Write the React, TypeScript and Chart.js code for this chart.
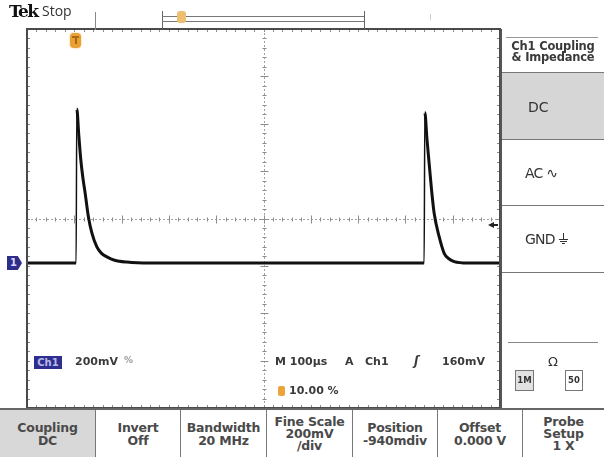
import React, { useEffect, useRef } from "react";
import { Chart, registerables } from "chart.js";

Chart.register(...registerables);

// ---- data (time in µs relative to trigger, voltage in mV relative to ground) ----
const TIME_US = [
  -100, 1.7, 3.8, 5.3, 9.5, 13.8, 18.5, 22.9, 29.9, 37.1, 47.7, 57, 68.9, 85, 111, 160,
  736, 739.6, 741.1, 745.5, 750.2, 755.5, 760.8, 771.4, 782, 792, 803.2, 831.5, 900,
];
const VOLT_MV = [
  0, 0, 0, 650, 540, 435, 355, 296, 194, 127, 68, 42, 26, 12, 4, 0,
  0, 0, 636, 525, 421, 305, 210, 111, 41, 18, 6, 0, 0,
];

const X_MIN = -100;
const X_MAX = 900;
const X_DIV = 100;
const Y_MIN = -612;
const Y_MAX = 988;
const Y_DIV = 200;

const BOTTOM_MENU: string[][] = [
  ["Coupling", "DC"],
  ["Invert", "Off"],
  ["Bandwidth", "20 MHz"],
  ["Fine Scale", "200mV", "/div"],
  ["Position", "-940mdiv"],
  ["Offset", "0.000 V"],
  ["Probe", "Setup", "1 X"],
];
const BOTTOM_EDGES = [0, 95, 180, 266, 352, 437, 522, 604];

const FONT = "'DejaVu Sans', 'Open Sans', sans-serif";

const graticule = {
  id: "graticule",
  beforeDatasetsDraw(chart: any) {
    const { ctx, chartArea: a, scales } = chart;
    const x = scales.x;
    const y = scales.y;
    const xc = Math.round(x.getPixelForValue((X_MIN + X_MAX) / 2)) + 0.5;
    const yc = Math.round(y.getPixelForValue((Y_MIN + Y_MAX) / 2)) + 0.5;
    ctx.save();
    ctx.lineWidth = 1;
    ctx.strokeStyle = "#a0a0a0";
    ctx.setLineDash([2, 2]);
    ctx.beginPath();
    ctx.moveTo(a.left, yc);
    ctx.lineTo(a.right, yc);
    ctx.moveTo(xc, a.top);
    ctx.lineTo(xc, a.bottom);
    ctx.stroke();
    ctx.setLineDash([]);
    ctx.strokeStyle = "#8c8c8c";
    ctx.beginPath();
    for (let i = 0; i <= 50; i++) {
      const v = X_MIN + (i * X_DIV) / 5;
      const px = Math.round(x.getPixelForValue(v)) + 0.5;
      const h = i % 5 === 0 ? 4 : 2;
      ctx.moveTo(px, yc - h);
      ctx.lineTo(px, yc + h);
      ctx.moveTo(px, a.top);
      ctx.lineTo(px, a.top + 3);
      ctx.moveTo(px, a.bottom);
      ctx.lineTo(px, a.bottom - 3);
    }
    for (let i = 0; i <= 40; i++) {
      const v = Y_MIN + (i * Y_DIV) / 5;
      const py = Math.round(y.getPixelForValue(v)) + 0.5;
      const h = i % 5 === 0 ? 4 : 2;
      ctx.moveTo(xc - h, py);
      ctx.lineTo(xc + h, py);
      ctx.moveTo(a.left, py);
      ctx.lineTo(a.left + 3, py);
      ctx.moveTo(a.right, py);
      ctx.lineTo(a.right - 3, py);
    }
    ctx.stroke();
    ctx.restore();
  },
  afterDatasetsDraw(chart: any) {
    const { ctx, chartArea: a } = chart;
    ctx.save();
    ctx.strokeStyle = "#4a4a4a";
    ctx.lineWidth = 2;
    ctx.strokeRect(a.left, a.top, a.right - a.left, a.bottom - a.top);
    ctx.restore();
  },
};

const abs = (s: React.CSSProperties): React.CSSProperties => ({ position: "absolute", ...s });

export default function App() {
  const ref = useRef<HTMLCanvasElement | null>(null);

  useEffect(() => {
    if (!ref.current) return;
    const points = TIME_US.map((t, i) => ({ x: t, y: VOLT_MV[i] }));
    const chart = new Chart(ref.current, {
      type: "line",
      data: {
        datasets: [
          {
            data: points,
            borderColor: "#111111",
            borderWidth: 3,
            pointRadius: 0,
            cubicInterpolationMode: "monotone",
            segment: {
              borderWidth: (c: any) => (Math.abs(c.p1.parsed.y - c.p0.parsed.y) > 300 ? 1.5 : 3),
            },
          } as any,
        ],
      },
      options: {
        responsive: false,
        animation: false,
        devicePixelRatio: 1,
        layout: { padding: { left: 27, top: 29, right: 104, bottom: 49 } },
        plugins: { legend: { display: false }, tooltip: { enabled: false } },
        scales: {
          x: { type: "linear", min: X_MIN, max: X_MAX, display: false },
          y: { type: "linear", min: Y_MIN, max: Y_MAX, display: false },
        },
      },
      plugins: [graticule],
    });
    return () => chart.destroy();
  }, []);

  const txt: React.CSSProperties = { fontFamily: FONT, color: "#333", whiteSpace: "nowrap", lineHeight: 1 };
  const ro: React.CSSProperties = { ...txt, fontSize: 11, fontWeight: 700, color: "#3a3a3a", top: 356 };

  return (
    <div style={{ position: "fixed", left: 0, top: 0, width: 604, height: 457, background: "#fff", overflow: "hidden" }}>
      <canvas ref={ref} width={604} height={457} style={{ position: "absolute", left: 0, top: 0, width: 604, height: 457 }} />

      {/* top status line */}
      <div style={abs({ ...txt, left: 9, top: 3, fontFamily: "'DejaVu Serif', serif", fontWeight: 700, fontSize: 17, letterSpacing: -1.6, color: "#111" })}>Tek</div>
      <div style={abs({ ...txt, left: 42, top: 4, fontFamily: "'Open Sans', sans-serif", fontSize: 14, color: "#333" })}>Stop</div>
      <div style={abs({ left: 95, top: 12, width: 1, height: 18, background: "#888" })} />
      <div style={abs({ left: 162, top: 11, width: 1, height: 18, background: "#666" })} />
      <div style={abs({ left: 364, top: 11, width: 1, height: 18, background: "#666" })} />
      <div style={abs({ left: 162, top: 16, width: 202, height: 4, borderTop: "1px solid #777", borderBottom: "1px solid #777" })} />
      <div style={abs({ left: 177, top: 11, width: 9, height: 12, background: "#ecc070", borderRadius: 3 })} />
      <div style={abs({ left: 430, top: 14, width: 1, height: 6, background: "#ccc" })} />

      {/* trigger position marker */}
      <div style={abs({ left: 70, top: 33, width: 11, height: 15, background: "#e9a136", borderRadius: 4, boxShadow: "0 0 2px #f0c070" })}>
        <div style={abs({ left: 2, top: 3, width: 7, height: 2, background: "#a86a10" })} />
        <div style={abs({ left: 4.5, top: 4, width: 2, height: 7, background: "#a86a10" })} />
      </div>

      {/* ground marker */}
      <div
        style={abs({
          ...txt,
          left: 7,
          top: 256,
          width: 15,
          height: 14,
          background: "#2e2e8a",
          clipPath: "polygon(0 0, 72% 0, 100% 50%, 72% 100%, 0 100%)",
          color: "#d8d8ff",
          fontSize: 10,
          fontWeight: 700,
          paddingLeft: 3,
          paddingTop: 2,
          boxSizing: "border-box",
        })}
      >
        1
      </div>

      {/* trigger level arrow */}
      <div style={abs({ left: 488, top: 222, width: 0, height: 0, borderTop: "3px solid transparent", borderBottom: "3px solid transparent", borderRight: "6px solid #222" })} />
      <div style={abs({ left: 492, top: 224, width: 6, height: 2, background: "#222" })} />

      {/* readouts */}
      <div style={abs({ ...txt, left: 34, top: 356, width: 28, height: 13, background: "#2e2e8e", color: "#b8b8e8", fontSize: 10, fontWeight: 700, textAlign: "center", paddingTop: 1.5, boxSizing: "border-box" })}>Ch1</div>
      <div style={abs({ ...ro, left: 75 })}>200mV</div>
      <div style={abs({ ...ro, left: 124, fontSize: 9, color: "#999" })}>%</div>

      <div style={abs({ ...ro, left: 275 })}>M 100µs</div>
      <div style={abs({ ...ro, left: 345 })}>A</div>
      <div style={abs({ ...ro, left: 365 })}>Ch1</div>
      <div style={abs({ ...ro, left: 414, top: 355, fontSize: 12, fontStyle: "italic" })}>ʃ</div>
      <div style={abs({ ...ro, left: 442 })}>160mV</div>

      <div style={abs({ left: 278, top: 386, width: 7, height: 10, background: "#eba33a", borderRadius: 2 })} />
      <div style={abs({ ...ro, left: 289, top: 385 })}>10.00 %</div>

      {/* right side menu */}
      <div style={abs({ left: 500, top: 29, width: 2, height: 380, background: "#555" })} />
      <div style={abs({ left: 506, top: 37, width: 92, height: 1, background: "#999" })} />
      <div style={abs({ ...txt, left: 502, top: 41, width: 102, fontSize: 11.5, fontWeight: 700, textAlign: "center", lineHeight: "11px", color: "#3a3a3a", letterSpacing: -0.2 })}>
        Ch1 Coupling
        <br />& Impedance
      </div>
      <div style={abs({ left: 502, top: 72, width: 102, height: 68, background: "#d6d6d6", borderTop: "1px solid #777", borderBottom: "1px solid #777", boxSizing: "border-box" })} />
      <div style={abs({ ...txt, left: 528, top: 100, fontSize: 14 })}>DC</div>
      <div style={abs({ ...txt, left: 525, top: 166, fontSize: 14, letterSpacing: -0.8 })}>AC ∿</div>
      <div style={abs({ left: 502, top: 205, width: 102, height: 1, background: "#777" })} />
      <div style={abs({ ...txt, left: 525, top: 232, fontSize: 14, letterSpacing: -0.8 })}>GND</div>
      <div style={abs({ left: 563, top: 233, width: 1, height: 6, background: "#333" })} />
      <div style={abs({ left: 559, top: 239, width: 9, height: 1, background: "#333" })} />
      <div style={abs({ left: 560, top: 241, width: 7, height: 1, background: "#333" })} />
      <div style={abs({ left: 562, top: 243, width: 3, height: 1, background: "#333" })} />
      <div style={abs({ left: 502, top: 272, width: 102, height: 1, background: "#777" })} />
      <div style={abs({ left: 508, top: 342, width: 90, height: 1, background: "#888" })} />
      <div style={abs({ ...txt, left: 502, top: 355, width: 102, textAlign: "center", fontSize: 13 })}>Ω</div>
      <div style={abs({ ...txt, left: 515, top: 370, width: 19, height: 21, border: "1px solid #777", background: "#e2e2e2", fontSize: 8.5, fontWeight: 700, textAlign: "center", lineHeight: "19px", boxSizing: "border-box" })}>1M</div>
      <div style={abs({ ...txt, left: 565, top: 370, width: 18, height: 21, border: "1px solid #777", background: "#fff", fontSize: 8.5, fontWeight: 700, textAlign: "center", lineHeight: "19px", boxSizing: "border-box" })}>50</div>

      {/* bottom menu */}
      <div style={abs({ left: 0, top: 408, width: 604, height: 2, background: "#666" })} />
      {BOTTOM_MENU.map((lines, i) => {
        const l = BOTTOM_EDGES[i];
        const w = BOTTOM_EDGES[i + 1] - l;
        return (
          <div
            key={i}
            style={abs({
              left: l,
              top: 410,
              width: w,
              height: 47,
              background: i === 0 ? "#d8d8d8" : "#fff",
              borderLeft: i === 0 ? "none" : "1.5px solid #777",
              boxSizing: "border-box",
              display: "flex",
              flexDirection: "column",
              justifyContent: "center",
              alignItems: "center",
            })}
          >
            {lines.map((s, j) => (
              <div key={j} style={{ ...txt, fontSize: 12.5, fontWeight: 700, lineHeight: lines.length > 2 ? "12px" : "13px", color: "#4a4a4a", letterSpacing: -0.2 }}>
                {s}
              </div>
            ))}
          </div>
        );
      })}
    </div>
  );
}
